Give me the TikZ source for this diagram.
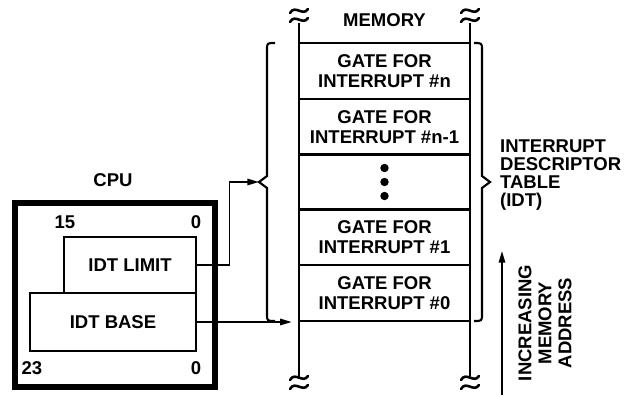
\documentclass[tikz,border=0pt]{standalone}
\usepackage{fontspec}
\setmainfont{Liberation Sans}
\usetikzlibrary{arrows.meta}

\tikzset{
    gate/.style={draw, line width=2.4pt, minimum width=5.13cm, minimum height=1.68cm, inner sep=0pt, align=center},
    reg/.style={draw, line width=2.4pt, inner sep=0pt},
    memline/.style={line width=2.4pt},
    link/.style={line width=1.5pt, -{Triangle[length=10pt,width=5.5pt]}},
    idtbrace/.style={line width=1.8pt, line join=miter},
    squig/.pic={
        \draw[line width=2.2pt, line cap=round] (-9,-3) .. controls (-4,-12) and (4,1) .. (9,-7);
        \draw[line width=2.2pt, line cap=round] (-9,6) .. controls (-4,-3) and (4,10) .. (9,2);
    }
}

\begin{document}
\begin{tikzpicture}[x=0.03cm, y=-0.03cm, font=\bfseries\fontsize{15.8}{16.8}\selectfont]
    \useasboundingbox (0,0) rectangle (631,397);

    % memory column
    \node (memlbl) at (384.5,20.5) {MEMORY};
    \coordinate (mtl) at (299,23);
    \coordinate (mbl) at (299,379);
    \coordinate (mtr) at (470,23);
    \coordinate (mbr) at (470,379);
    \draw[memline] (mtl) -- (mbl);
    \draw[memline] (mtr) -- (mbr);
    \pic at (299,16) {squig};
    \pic at (470,16) {squig};
    \pic at (299,383) {squig};
    \pic at (470,383) {squig};

    \node[gate] (gn) at (384.5,71) {GATE FOR\\INTERRUPT \#n};
    \node[gate] (gn1) at (384.5,127) {GATE FOR\\INTERRUPT \#n-1};
    \node[gate] (gdots) at (384.5,182) {};
    \node[gate] (g1) at (384.5,237) {GATE FOR\\INTERRUPT \#1};
    \node[gate] (g0) at (384.5,293) {GATE FOR\\INTERRUPT \#0};
    \foreach \d in {-14,0,14}
        \fill (gdots.center) ++(0,\d) circle[radius=3.6pt];

    % braces round the table
    \coordinate (ltip) at (259,182);
    \coordinate (rtip) at (490,182);
    \draw[idtbrace] (275,43) .. controls (267,43) .. (267,50) -- (267,176) -- (ltip)
        -- (267,188) -- (267,314) .. controls (267,321) .. (275,321);
    \draw[idtbrace] (474,43) .. controls (482,43) .. (482,50) -- (482,176) -- (rtip)
        -- (482,188) -- (482,314) .. controls (482,321) .. (474,321);
    \node[anchor=west, align=left, font=\bfseries\fontsize{15.8}{15.6}\selectfont] (idt) at (496,175)
        {INTERRUPT\\DESCRIPTOR\\TABLE\\(IDT)};

    % address direction
    \coordinate (abot) at (502,395);
    \coordinate (atop) at (502,251);
    \draw[link] (abot) -- (atop);
    \node[rotate=90, align=center, font=\bfseries\fontsize{15.8}{17}\selectfont] (addr) at (545,323)
        {INCREASING\\MEMORY\\ADDRESS};

    % cpu registers
    \node[draw, line width=5pt, minimum width=6cm, minimum height=5.52cm] (cpu) at (115,295) {};
    \node (cpulbl) at (113,180) {CPU};
    \node[reg, minimum width=3.96cm, minimum height=1.68cm] (limit) at (130,265) {IDT LIMIT};
    \node[reg, minimum width=4.98cm, minimum height=1.74cm] (base) at (113,322) {IDT BASE};
    \node (b15) at (65,222) {15};
    \node (b0a) at (196,222) {0};
    \node (b23) at (32,368) {23};
    \node (b0b) at (196,368) {0};

    \draw[link] (limit.east) -- ++(32,0) |- (ltip);
    \draw[link, shorten >=5pt] (base.east) -- (base.east -| g0.south west);
\end{tikzpicture}
\end{document}
